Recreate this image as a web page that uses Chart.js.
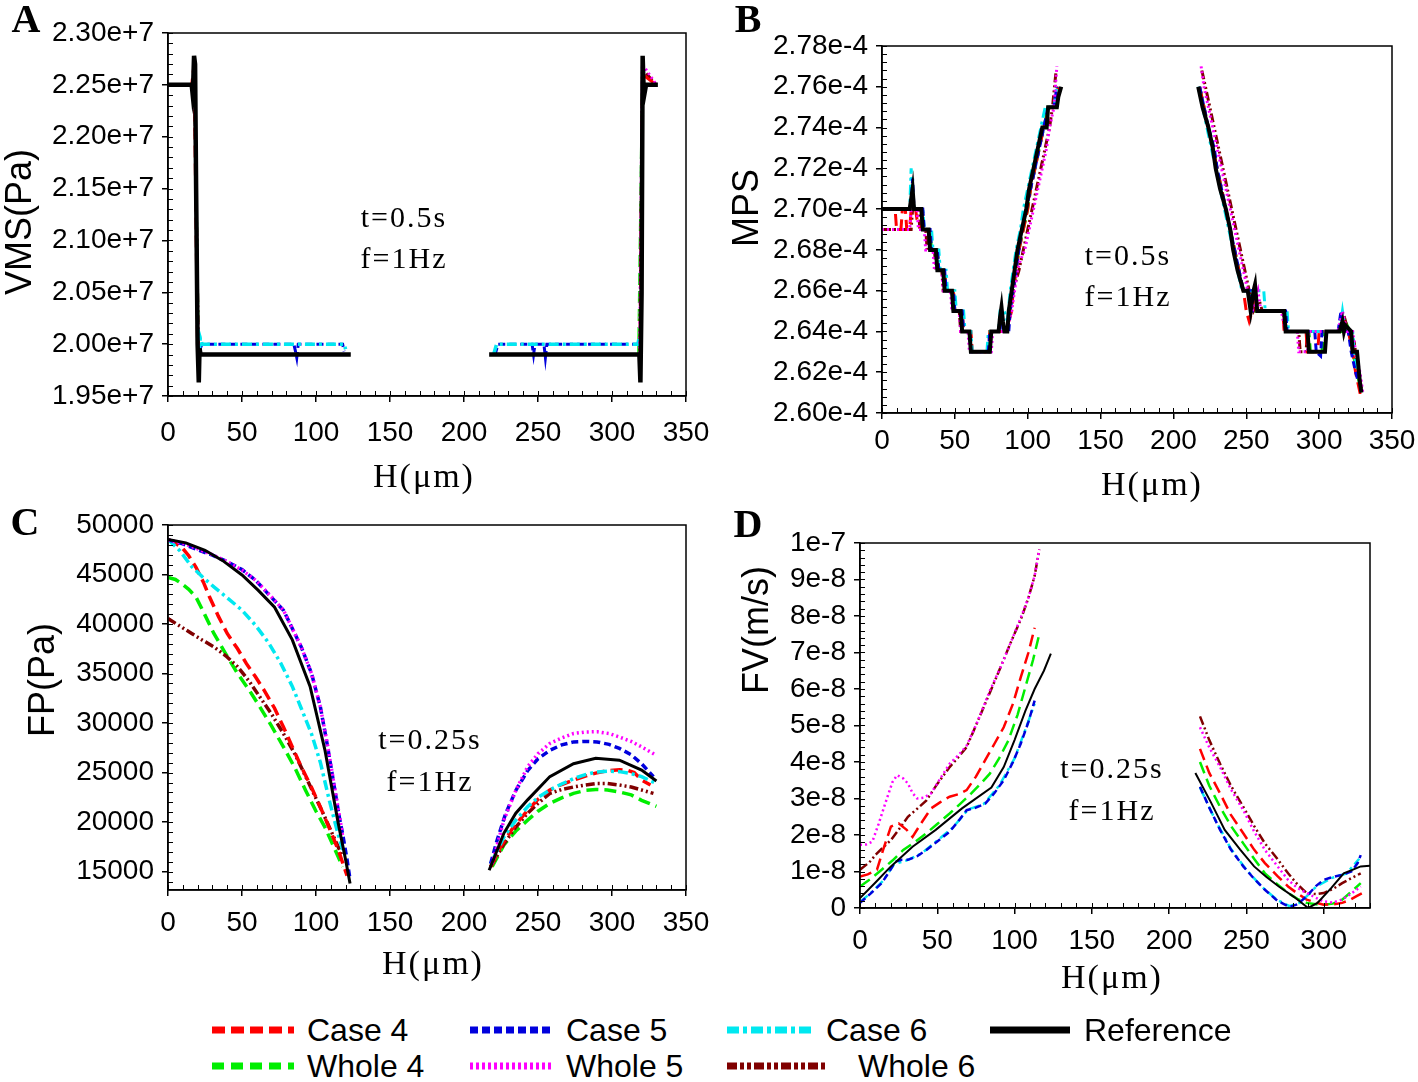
<!DOCTYPE html>
<html><head><meta charset="utf-8">
<script src="https://cdn.jsdelivr.net/npm/chart.js@4.4.0/dist/chart.umd.min.js"></script>
<style>
body{margin:0;background:#fff;width:1418px;height:1082px;overflow:hidden;position:relative;font-family:"Liberation Sans",Arial,sans-serif;}
canvas{position:absolute;}
.lbl{position:absolute;color:#000;white-space:nowrap;line-height:1;}
.letter{font-family:"Liberation Serif","Times New Roman",serif;font-weight:bold;font-size:40px;transform:translate(-50%,-50%);}
.ytitle{font-size:36px;transform:translate(-50%,-50%) rotate(-90deg);}
.xtitle{font-family:"Liberation Serif","Times New Roman",serif;font-size:34px;letter-spacing:2px;transform:translate(-50%,-50%);}
.ann{font-family:"Liberation Serif","Times New Roman",serif;font-size:30px;letter-spacing:2px;transform:translate(-50%,-50%);}
.leg{position:absolute;font-size:32px;line-height:1;transform:translateY(-50%);white-space:nowrap;}
.legsw{position:absolute;transform:translateY(-50%);}
</style></head>
<body>
<canvas id="cA" width="709" height="500" style="left:0;top:0;width:709px;height:500px"></canvas>
<canvas id="cB" width="709" height="500" style="left:709px;top:0;width:709px;height:500px"></canvas>
<canvas id="cC" width="709" height="500" style="left:0;top:500px;width:709px;height:500px"></canvas>
<canvas id="cD" width="709" height="500" style="left:709px;top:500px;width:709px;height:500px"></canvas>

<div class="lbl letter" style="left:26px;top:19px">A</div>
<div class="lbl letter" style="left:748px;top:19px">B</div>
<div class="lbl letter" style="left:25px;top:522px">C</div>
<div class="lbl letter" style="left:748px;top:524px">D</div>

<div class="lbl ytitle" style="left:19px;top:222px">VMS(Pa)</div>
<div class="lbl ytitle" style="left:746px;top:208px">MPS</div>
<div class="lbl ytitle" style="left:42px;top:680px">FP(Pa)</div>
<div class="lbl ytitle" style="left:756px;top:630px">FV(m/s)</div>

<div class="lbl xtitle" style="left:424px;top:476px">H(μm)</div>
<div class="lbl xtitle" style="left:1152px;top:484px">H(μm)</div>
<div class="lbl xtitle" style="left:433px;top:963px">H(μm)</div>
<div class="lbl xtitle" style="left:1112px;top:977px">H(μm)</div>

<div class="lbl ann" style="left:404px;top:217px">t=0.5s</div>
<div class="lbl ann" style="left:404px;top:258px">f=1Hz</div>
<div class="lbl ann" style="left:1128px;top:255px">t=0.5s</div>
<div class="lbl ann" style="left:1128px;top:296px">f=1Hz</div>
<div class="lbl ann" style="left:430px;top:739px">t=0.25s</div>
<div class="lbl ann" style="left:430px;top:781px">f=1Hz</div>
<div class="lbl ann" style="left:1112px;top:768px">t=0.25s</div>
<div class="lbl ann" style="left:1112px;top:810px">f=1Hz</div>

<div id="legend"></div>

<script>
// ---------- series names ----------
const SERIES = ['Case 4','Case 5','Case 6','Reference','Whole 4','Whole 5','Whole 6'];

// ---------- tick labels ----------
const xTicksFull = [0,50,100,150,200,250,300,350];
const xTicksD = [0,50,100,150,200,250,300];
const yTicksA = [1.95e7,2.00e7,2.05e7,2.10e7,2.15e7,2.20e7,2.25e7,2.30e7];
const yTicksB = [2.60e-4,2.62e-4,2.64e-4,2.66e-4,2.68e-4,2.70e-4,2.72e-4,2.74e-4,2.76e-4,2.78e-4];
const yTicksC = [15000,20000,25000,30000,35000,40000,45000,50000];
const yTicksD = [0,1e-8,2e-8,3e-8,4e-8,5e-8,6e-8,7e-8,8e-8,9e-8,1e-7];

// ---------- Panel A : VMS(Pa) ----------
const A_case4  = [[0,2.25e7],[16,2.25e7],[17.6,2.27e7],[20,1.99e7],[122,1.99e7],[170,null],[218,1.99e7],[319,1.99e7],[320.7,2.26e7],[330,2.25e7]];
const A_case5  = [[21.5,1.995e7],[23,2.0e7],[85,2.0e7],[86,1.994e7],[87,1.987e7],[88,2.0e7],[118,2.0e7],[119,1.993e7],[170,null],[221,1.99e7],[223,2.0e7],[246,2.0e7],[247,1.99e7],[248,2.0e7],[254,2.0e7],[255,1.987e7],[256,2.0e7],[318,2.0e7]];
const A_case6  = [[21,1.99e7],[21.8,2.006e7],[23,2.0e7],[119,2.0e7],[120,1.995e7],[170,null],[220,1.99e7],[222,2.0e7],[317.5,2.0e7],[318.3,2.006e7]];
const A_ref    = [[0,2.25e7],[16,2.25e7],[16.5,2.243e7],[17,2.25e7],[17.6,2.278e7],[18.3,2.27e7],[19,2.15e7],[20,2.0e7],[20.8,1.963e7],[21.3,1.996e7],[22,1.99e7],[123.5,1.99e7],[170,null],[217,1.99e7],[318.5,1.99e7],[319.2,1.963e7],[320,2.05e7],[320.7,2.278e7],[321.3,2.25e7],[322,2.242e7],[323,2.25e7],[331,2.25e7]];
const A_whole4 = [[0,2.25e7],[16,2.25e7],[18,2.26e7],[20.5,1.99e7],[121,1.99e7],[170,null],[219,1.99e7],[318,1.99e7],[320.5,2.25e7],[329,2.25e7]];
const A_whole5 = [[0,2.25e7],[17,2.25e7],[18,2.27e7],[20.3,1.99e7],[120,1.99e7],[170,null],[218,1.99e7],[318.6,1.99e7],[320.5,2.27e7],[330,2.25e7]];
const A_whole6 = [[0,2.25e7],[16.5,2.25e7],[17.8,2.265e7],[20.6,1.99e7],[122,1.99e7],[170,null],[218,1.99e7],[318.8,1.99e7],[320.6,2.265e7],[330,2.25e7]];

// ---------- Panel B : MPS ----------
const B_case4 = [[0,2.70e-4],[9,2.70e-4],[10,2.69e-4],[13,2.69e-4],[14,2.70e-4],[16,2.70e-4],[17,2.69e-4],[19,2.69e-4],[20,2.70e-4],[23,2.70e-4],[24,2.695e-4],[27,2.69e-4],[32,2.69e-4],[33,2.68e-4],[38,2.68e-4],[39,2.67e-4],[43,2.67e-4],[44,2.66e-4],[49,2.66e-4],[50,2.65e-4],[55,2.65e-4],[56,2.64e-4],[61,2.64e-4],[62,2.63e-4],[73,2.63e-4],[74,2.64e-4],[86,2.64e-4],[87,2.645e-4],[89,2.65e-4],[90,2.66e-4],[92,2.67e-4],[94,2.68e-4],[97,2.69e-4],[100,2.70e-4],[102,2.71e-4],[105,2.72e-4],[108,2.73e-4],[111,2.74e-4],[115,2.75e-4],[119,2.75e-4],[121,2.76e-4],[170,null],[218,2.76e-4],[221,2.75e-4],[224,2.74e-4],[227,2.73e-4],[230,2.72e-4],[233,2.71e-4],[236,2.70e-4],[239,2.69e-4],[242,2.68e-4],[245,2.67e-4],[248,2.66e-4],[250,2.65e-4],[252,2.645e-4],[254,2.65e-4],[256,2.66e-4],[258,2.65e-4],[275,2.65e-4],[276,2.64e-4],[291,2.64e-4],[292,2.63e-4],[299,2.63e-4],[300,2.64e-4],[314,2.64e-4],[317,2.645e-4],[320,2.64e-4],[323,2.63e-4],[325,2.62e-4],[328,2.61e-4],[330,2.61e-4]];
const B_case5 = [[0,2.70e-4],[20,2.70e-4],[21,2.715e-4],[22,2.70e-4],[28,2.70e-4],[29,2.69e-4],[33,2.69e-4],[34,2.68e-4],[38,2.68e-4],[39,2.67e-4],[43,2.67e-4],[44,2.66e-4],[49,2.66e-4],[50,2.65e-4],[55,2.65e-4],[56,2.64e-4],[60,2.64e-4],[61,2.63e-4],[73,2.63e-4],[74,2.64e-4],[81,2.64e-4],[82,2.65e-4],[84,2.64e-4],[87,2.64e-4],[88,2.65e-4],[90,2.66e-4],[92,2.67e-4],[94,2.68e-4],[96,2.69e-4],[99,2.70e-4],[102,2.71e-4],[105,2.72e-4],[108,2.73e-4],[111,2.74e-4],[114,2.75e-4],[118,2.75e-4],[120,2.76e-4],[170,null],[218,2.76e-4],[221,2.75e-4],[224,2.74e-4],[228,2.73e-4],[230,2.72e-4],[233,2.71e-4],[236,2.70e-4],[239,2.69e-4],[242,2.68e-4],[245,2.67e-4],[248,2.66e-4],[253,2.66e-4],[254,2.65e-4],[277,2.65e-4],[278,2.64e-4],[297,2.64e-4],[298,2.63e-4],[301,2.628e-4],[302,2.64e-4],[313,2.64e-4],[315,2.65e-4],[316,2.64e-4],[320,2.64e-4],[322,2.63e-4],[325,2.62e-4],[327,2.615e-4]];
const B_case6 = [[0,2.70e-4],[19,2.70e-4],[20,2.72e-4],[21,2.71e-4],[22,2.70e-4],[28,2.70e-4],[29,2.69e-4],[34,2.69e-4],[35,2.68e-4],[39,2.68e-4],[40,2.67e-4],[44,2.67e-4],[45,2.66e-4],[50,2.66e-4],[51,2.65e-4],[56,2.65e-4],[57,2.64e-4],[61,2.64e-4],[62,2.63e-4],[72,2.63e-4],[73,2.64e-4],[80,2.64e-4],[81,2.65e-4],[84,2.65e-4],[86,2.645e-4],[88,2.66e-4],[90,2.67e-4],[92,2.68e-4],[95,2.69e-4],[97,2.70e-4],[100,2.71e-4],[103,2.72e-4],[106,2.73e-4],[109,2.74e-4],[112,2.75e-4],[118,2.75e-4],[120,2.76e-4],[170,null],[217,2.76e-4],[220,2.75e-4],[223,2.74e-4],[226,2.73e-4],[229,2.72e-4],[232,2.71e-4],[235,2.70e-4],[238,2.69e-4],[241,2.68e-4],[244,2.67e-4],[247,2.66e-4],[262,2.66e-4],[263,2.65e-4],[278,2.65e-4],[279,2.64e-4],[314,2.64e-4],[316,2.65e-4],[318,2.64e-4],[323,2.64e-4],[324,2.63e-4],[326,2.62e-4],[328,2.62e-4]];
const B_ref = [[0,2.70e-4],[19,2.70e-4],[20,2.705e-4],[21,2.71e-4],[22,2.70e-4],[27,2.70e-4],[28,2.69e-4],[32,2.69e-4],[33,2.68e-4],[37,2.68e-4],[38,2.67e-4],[42,2.67e-4],[43,2.66e-4],[48,2.66e-4],[49,2.65e-4],[54,2.65e-4],[55,2.64e-4],[60,2.64e-4],[61,2.63e-4],[74,2.63e-4],[75,2.64e-4],[80,2.64e-4],[81,2.647e-4],[82,2.652e-4],[83,2.645e-4],[84,2.64e-4],[86,2.64e-4],[87,2.65e-4],[89,2.66e-4],[91,2.67e-4],[93,2.68e-4],[96,2.69e-4],[99,2.70e-4],[101,2.71e-4],[104,2.72e-4],[107,2.73e-4],[110,2.74e-4],[113,2.74e-4],[114,2.75e-4],[120,2.75e-4],[121,2.755e-4],[123,2.76e-4],[170,null],[217,2.76e-4],[220,2.75e-4],[224,2.74e-4],[227,2.73e-4],[229,2.72e-4],[232,2.71e-4],[236,2.70e-4],[239,2.69e-4],[241,2.68e-4],[244,2.67e-4],[248,2.66e-4],[251,2.66e-4],[253,2.65e-4],[255,2.66e-4],[256,2.663e-4],[257.5,2.65e-4],[276,2.65e-4],[277,2.64e-4],[292,2.64e-4],[293,2.63e-4],[304,2.63e-4],[305,2.64e-4],[314,2.64e-4],[316,2.645e-4],[317,2.64e-4],[318,2.643e-4],[322,2.64e-4],[323,2.63e-4],[326,2.63e-4],[328,2.615e-4],[329,2.61e-4]];
const B_whole4 = [[0,2.70e-4],[20,2.70e-4],[21,2.705e-4],[22,2.70e-4],[27,2.70e-4],[28,2.69e-4],[33,2.69e-4],[34,2.68e-4],[38,2.68e-4],[39,2.67e-4],[43,2.67e-4],[44,2.66e-4],[49,2.66e-4],[50,2.65e-4],[54,2.65e-4],[55,2.64e-4],[60,2.64e-4],[61,2.63e-4],[73,2.63e-4],[74,2.64e-4],[86,2.64e-4],[88,2.65e-4],[90,2.66e-4],[92,2.67e-4],[94,2.68e-4],[97,2.69e-4],[100,2.70e-4],[102,2.71e-4],[105,2.72e-4],[108,2.73e-4],[111,2.74e-4],[114,2.75e-4],[119,2.75e-4],[121,2.76e-4],[170,null],[218,2.76e-4],[221,2.75e-4],[224,2.74e-4],[227,2.73e-4],[230,2.72e-4],[233,2.71e-4],[236,2.70e-4],[239,2.69e-4],[242,2.68e-4],[245,2.67e-4],[248,2.66e-4],[252,2.66e-4],[253,2.65e-4],[276,2.65e-4],[277,2.64e-4],[293,2.64e-4],[294,2.63e-4],[302,2.63e-4],[303,2.64e-4],[316,2.64e-4],[318,2.645e-4],[321,2.64e-4],[323,2.63e-4],[326,2.62e-4],[329,2.61e-4]];
const B_whole5 = [[0,2.69e-4],[19,2.69e-4],[20,2.70e-4],[24,2.70e-4],[25,2.69e-4],[29,2.69e-4],[30,2.68e-4],[35,2.68e-4],[36,2.67e-4],[41,2.67e-4],[42,2.66e-4],[47,2.66e-4],[48,2.65e-4],[53,2.65e-4],[54,2.64e-4],[59,2.64e-4],[60,2.63e-4],[75,2.63e-4],[76,2.64e-4],[85,2.64e-4],[87,2.645e-4],[89,2.65e-4],[91,2.66e-4],[93,2.67e-4],[95,2.675e-4],[98,2.68e-4],[101,2.69e-4],[104,2.70e-4],[107,2.71e-4],[110,2.72e-4],[113,2.73e-4],[115,2.74e-4],[118,2.75e-4],[120,2.77e-4],[170,null],[219,2.77e-4],[221,2.76e-4],[224,2.75e-4],[227,2.74e-4],[230,2.73e-4],[233,2.72e-4],[236,2.71e-4],[239,2.70e-4],[242,2.69e-4],[245,2.68e-4],[248,2.67e-4],[251,2.66e-4],[254,2.65e-4],[258,2.66e-4],[260,2.65e-4],[274,2.65e-4],[277,2.64e-4],[285,2.64e-4],[286,2.63e-4],[292,2.63e-4],[293,2.64e-4],[313,2.64e-4],[316,2.65e-4],[319,2.64e-4],[323,2.64e-4],[325,2.63e-4],[328,2.62e-4],[330,2.61e-4]];
const B_whole6 = [[0,2.69e-4],[20,2.69e-4],[21,2.70e-4],[25,2.70e-4],[26,2.69e-4],[30,2.69e-4],[31,2.68e-4],[36,2.68e-4],[37,2.67e-4],[41,2.67e-4],[42,2.66e-4],[48,2.66e-4],[49,2.65e-4],[53,2.65e-4],[54,2.64e-4],[60,2.64e-4],[61,2.63e-4],[74,2.63e-4],[75,2.64e-4],[86,2.64e-4],[88,2.65e-4],[90,2.66e-4],[92,2.665e-4],[94,2.67e-4],[97,2.68e-4],[100,2.69e-4],[103,2.70e-4],[106,2.71e-4],[109,2.72e-4],[112,2.73e-4],[115,2.74e-4],[117,2.75e-4],[119.5,2.768e-4],[170,null],[219.5,2.768e-4],[222,2.76e-4],[225,2.75e-4],[228,2.74e-4],[231,2.73e-4],[234,2.72e-4],[237,2.71e-4],[240,2.70e-4],[243,2.69e-4],[246,2.68e-4],[249,2.67e-4],[252,2.66e-4],[255,2.65e-4],[259,2.655e-4],[261,2.65e-4],[275,2.65e-4],[278,2.64e-4],[286,2.64e-4],[287,2.63e-4],[291,2.63e-4],[292,2.64e-4],[314,2.64e-4],[317,2.648e-4],[320,2.64e-4],[324,2.635e-4],[326,2.625e-4],[329,2.612e-4]];

// ---------- Panel C : FP(Pa) ----------
const C_case4 = [[0,48550],[9,47800],[14,46900],[19,45700],[24,44200],[28,42750],[34,40800],[40,39050],[47,37500],[53,36000],[59,34700],[65,33300],[72,31500],[78,29600],[84,27600],[90,25600],[97,23500],[103,21500],[109,19400],[115,17200],[121,14600],[170,null],[218,15500],[225,17600],[233,19400],[243,21200],[250,22300],[258,23250],[266,23800],[274,24250],[282,24650],[289,24950],[297,25200],[305,25300],[311,25200],[315,25000],[320,24250],[326,23750]];
const C_case5 = [[0,48500],[10,48100],[20,47500],[30,46950],[40,46300],[50,45500],[59,44450],[68,43000],[78,41400],[90,37700],[97,35000],[103,31600],[108,27500],[112,23900],[116,20300],[118,18800],[121,16200],[123,14200],[170,null],[218,15800],[222,18000],[228,20800],[235,23200],[243,25200],[250,26400],[258,27250],[266,27800],[274,28100],[282,28150],[290,28100],[298,27850],[305,27450],[313,26800],[320,25900],[328,24600]];
const C_case6 = [[0,48550],[8,47400],[16,45800],[23,44800],[31,43750],[40,42650],[50,41400],[59,39900],[68,38100],[76,36100],[84,33700],[90,31500],[97,28900],[103,26000],[109,22200],[114,19300],[118,17200],[170,null],[218,15800],[227,18500],[235,20200],[243,21550],[250,22500],[258,23250],[266,23850],[274,24400],[282,24800],[289,25050],[297,25150],[305,25100],[313,24900],[320,24600],[330,23900]];
const C_ref = [[0,48550],[12,48200],[25,47450],[37,46400],[50,44950],[61,43400],[72,41700],[84,38400],[96,33700],[106,27300],[115,19900],[120,16200],[123,13800],[170,null],[217,15150],[227,18900],[235,20900],[243,22250],[258,24600],[274,25900],[289,26450],[305,26250],[320,25250],[330,24150]];
const C_whole4 = [[0,44700],[5,44500],[9,44100],[14,43500],[19,42700],[25,40900],[31,39050],[39,37000],[47,35000],[55,33300],[62,31650],[70,29700],[78,27600],[86,25400],[93,23200],[100,21100],[106,19500],[112,17500],[118,15500],[170,null],[219,15500],[227,17700],[235,19100],[243,20200],[250,21100],[258,21900],[266,22450],[274,22900],[282,23200],[289,23300],[297,23250],[305,23050],[313,22750],[320,22200],[330,21600]];
const C_whole5 = [[0,48500],[10,48150],[20,47600],[30,47000],[40,46300],[50,45450],[59,44450],[68,43050],[78,41400],[90,37700],[97,35000],[103,31600],[108,27600],[112,24000],[116,20500],[118,18600],[170,null],[219,15800],[223,18000],[227,20200],[235,23200],[243,25600],[250,26900],[258,27950],[266,28500],[274,28950],[282,29100],[290,29130],[298,28950],[305,28600],[313,28150],[320,27600],[330,26750]];
const C_whole6 = [[0,40550],[8,39800],[16,39050],[23,38400],[31,37700],[39,36800],[47,35700],[55,34200],[62,32650],[70,30900],[78,28950],[86,26800],[93,24600],[100,22400],[106,20500],[112,18500],[118,16500],[170,null],[218,15500],[227,17800],[235,19500],[243,20900],[250,21900],[258,22900],[266,23300],[274,23550],[282,23750],[289,23900],[297,23900],[305,23750],[313,23550],[320,23250],[328,22900]];

// ---------- Panel D : FV(m/s) ----------
const D_case4 = [[0,0.86e-8],[5,0.92e-8],[11,1.05e-8],[15,1.6e-8],[20,2.23e-8],[25,2.32e-8],[30,2.15e-8],[34,1.95e-8],[40,2.35e-8],[46,2.73e-8],[52,2.9e-8],[58,3.05e-8],[64,3.12e-8],[69,3.23e-8],[75,3.6e-8],[81,4.05e-8],[87,4.5e-8],[93,4.95e-8],[99,5.6e-8],[104,6.32e-8],[109,7.0e-8],[113,7.68e-8],[170,null],[220,4.36e-8],[226,3.7e-8],[233,3.14e-8],[240,2.55e-8],[248,2.05e-8],[255,1.6e-8],[262,1.23e-8],[270,0.88e-8],[277,0.59e-8],[283,0.4e-8],[289,0.23e-8],[295,0.15e-8],[300,0.09e-8],[306,0.1e-8],[312,0.14e-8],[317,0.22e-8],[321,0.32e-8],[325,0.41e-8]];
const D_case5 = [[0,0.14e-8],[7,0.4e-8],[14,0.68e-8],[19,1.0e-8],[23,1.27e-8],[27,1.32e-8],[31,1.32e-8],[37,1.42e-8],[43,1.59e-8],[50,1.82e-8],[58,2.09e-8],[64,2.4e-8],[69,2.68e-8],[75,2.75e-8],[81,2.86e-8],[87,3.15e-8],[93,3.5e-8],[99,4.0e-8],[104,4.5e-8],[109,5.1e-8],[113,5.68e-8],[170,null],[220,3.32e-8],[226,2.75e-8],[233,2.14e-8],[240,1.6e-8],[248,1.14e-8],[255,0.8e-8],[262,0.5e-8],[270,0.2e-8],[278,0.03e-8],[283,0.1e-8],[289,0.32e-8],[295,0.6e-8],[300,0.77e-8],[306,0.85e-8],[312,0.91e-8],[318,1.0e-8],[322,1.23e-8],[324,1.45e-8]];
const D_case6 = [[0,0.16e-8],[8,0.45e-8],[15,0.75e-8],[22,1.2e-8],[30,1.3e-8],[40,1.5e-8],[50,1.85e-8],[60,2.2e-8],[70,2.7e-8],[80,2.85e-8],[90,3.35e-8],[100,4.1e-8],[108,5.0e-8],[113,5.6e-8],[170,null],[220,3.3e-8],[230,2.4e-8],[240,1.62e-8],[250,1.05e-8],[260,0.58e-8],[270,0.22e-8],[278,0.05e-8],[285,0.15e-8],[295,0.58e-8],[305,0.82e-8],[315,0.95e-8],[323,1.35e-8]];
const D_ref = [[0,0.27e-8],[10,0.7e-8],[20,1.14e-8],[34,1.68e-8],[49,2.14e-8],[66,2.73e-8],[85,3.3e-8],[93,3.86e-8],[100,4.6e-8],[107,5.4e-8],[113,6.0e-8],[119,6.5e-8],[123.5,6.97e-8],[170,null],[217,3.7e-8],[227,2.9e-8],[236,2.14e-8],[246,1.6e-8],[255,1.14e-8],[263,0.85e-8],[271,0.59e-8],[281,0.3e-8],[290,0.0],[296,0.14e-8],[305,0.55e-8],[313,0.95e-8],[319,1.05e-8],[324,1.14e-8],[330,1.16e-8]];
const D_whole4 = [[0,0.59e-8],[7,0.8e-8],[14,1.05e-8],[21,1.3e-8],[28,1.59e-8],[36,1.82e-8],[43,2.05e-8],[50,2.3e-8],[58,2.59e-8],[65,2.86e-8],[72,3.14e-8],[78,3.4e-8],[84,3.68e-8],[90,4.1e-8],[96,4.59e-8],[102,5.3e-8],[107,6.05e-8],[112,6.8e-8],[116,7.5e-8],[170,null],[220,4.0e-8],[226,3.35e-8],[233,2.77e-8],[240,2.25e-8],[248,1.77e-8],[255,1.35e-8],[262,0.95e-8],[270,0.65e-8],[277,0.41e-8],[283,0.25e-8],[289,0.14e-8],[295,0.1e-8],[300,0.09e-8],[306,0.12e-8],[312,0.23e-8],[318,0.45e-8],[324,0.68e-8]];
const D_whole5 = [[0,1.73e-8],[4,1.74e-8],[8,1.82e-8],[12,2.3e-8],[17,2.95e-8],[21,3.45e-8],[24,3.64e-8],[28,3.55e-8],[31,3.41e-8],[34,3.15e-8],[37,3.0e-8],[41,3.02e-8],[46,3.14e-8],[52,3.55e-8],[58,3.95e-8],[64,4.2e-8],[69,4.45e-8],[76,5.1e-8],[84,5.95e-8],[91,6.6e-8],[98,7.32e-8],[104,7.95e-8],[109,8.5e-8],[113,9.1e-8],[116,9.82e-8],[170,null],[220,4.95e-8],[226,4.4e-8],[233,3.86e-8],[240,3.25e-8],[248,2.68e-8],[255,2.1e-8],[262,1.59e-8],[270,1.15e-8],[277,0.77e-8],[283,0.55e-8],[289,0.41e-8],[295,0.28e-8],[300,0.18e-8],[306,0.15e-8],[312,0.23e-8],[318,0.4e-8],[324,0.59e-8]];
const D_whole6 = [[0,1.05e-8],[6,1.25e-8],[11,1.5e-8],[16,1.7e-8],[20,1.86e-8],[26,2.2e-8],[31,2.5e-8],[37,2.72e-8],[43,2.95e-8],[50,3.4e-8],[58,3.86e-8],[64,4.15e-8],[69,4.41e-8],[76,5.1e-8],[84,5.9e-8],[91,6.6e-8],[98,7.32e-8],[104,7.9e-8],[109,8.5e-8],[113,9.1e-8],[116,9.82e-8],[170,null],[220,5.25e-8],[226,4.6e-8],[233,3.95e-8],[240,3.35e-8],[248,2.77e-8],[255,2.25e-8],[262,1.77e-8],[270,1.35e-8],[277,0.95e-8],[283,0.65e-8],[289,0.41e-8],[295,0.38e-8],[300,0.41e-8],[306,0.52e-8],[312,0.68e-8],[318,0.82e-8],[324,0.95e-8]];

// ---------- styles ----------
const COLORS = ['#ff0000','#0000dd','#00e8f0','#000000','#00ee00','#ff00ff','#800000'];
const DASH = [[12,6],[7,4],[10,4,3,4],[],[12,6],[2,3],[9,3,2,3,2,3]];
const ORDER = [4,2,3,0,6,1,5];
const ORDER_A = [4,3,2,0,6,1,5];
const FONT_SANS = '"Liberation Sans", Arial, sans-serif';

const framePlugin = {
  id:'frame',
  afterDraw(chart, args, opts){
    const {ctx, chartArea:a, scales:{x,y}} = chart;
    ctx.save();
    ctx.strokeStyle = '#000';
    ctx.lineWidth = 1;
    ctx.beginPath();
    let s = Math.ceil(x.min/opts.minorX - 1e-9);
    for (let i=s; i*opts.minorX <= x.max + 1e-9; i++){
      const p = Math.round(x.getPixelForValue(i*opts.minorX)) + 0.5;
      ctx.moveTo(p, a.bottom); ctx.lineTo(p, a.bottom - 5);
    }
    s = Math.ceil(y.min/opts.minorY - 1e-9);
    for (let i=s; i*opts.minorY <= y.max*(1+1e-9); i++){
      const p = Math.round(y.getPixelForValue(i*opts.minorY)) + 0.5;
      ctx.moveTo(a.left, p); ctx.lineTo(a.left + 5, p);
    }
    ctx.stroke();
    ctx.lineWidth = 1.5;
    ctx.strokeRect(a.left, a.top, a.right - a.left, a.bottom - a.top);
    ctx.restore();
  }
};

function panel(id, series, cfg){
  const ord = cfg.order || ORDER;
  return new Chart(document.getElementById(id), {
    type:'line',
    data:{datasets: series.map((s,i)=>({
      label: SERIES[i],
      data: s.map(p=>({x:p[0], y:p[1]})),
      borderColor: COLORS[i],
      borderWidth: cfg.widths[i],
      borderDash: DASH[i],
      pointRadius: 0,
      fill: false,
      tension: 0,
      spanGaps: false,
      order: ord[i]
    }))},
    options:{
      responsive:false, animation:false, devicePixelRatio:1,
      layout:{padding:{left:0, top:cfg.top, right:cfg.right, bottom:0}},
      plugins:{legend:{display:false}, tooltip:{enabled:false}, frame:{minorX:10, minorY:cfg.minorY}},
      scales:{
        x:{type:'linear', min:0, max:cfg.xmax,
          afterBuildTicks: sc=>{ sc.ticks = cfg.xticks.map(v=>({value:v})); },
          afterFit: sc=>{ sc.height = cfg.bottom; sc.paddingLeft = 0; sc.paddingRight = 0; },
          grid:{drawOnChartArea:false, drawTicks:true, tickLength:6, color:'#000', lineWidth:1.5},
          border:{display:true, color:'#000', width:1.5},
          ticks:{autoSkip:false, maxRotation:0, color:'#000', padding:cfg.xpad, font:{family:FONT_SANS, size:28}, callback:v=>String(v)}
        },
        y:{type:'linear', min:cfg.ymin, max:cfg.ymax,
          afterBuildTicks: sc=>{ sc.ticks = cfg.yticks.map(v=>({value:v})); },
          afterFit: sc=>{ sc.width = cfg.left; sc.paddingTop = 0; sc.paddingBottom = 0; },
          grid:{drawOnChartArea:false, drawTicks:true, tickLength:6, color:'#000', lineWidth:1.5},
          border:{display:true, color:'#000', width:1.5},
          ticks:{autoSkip:false, color:'#000', padding:cfg.ypad, font:{family:FONT_SANS, size:28}, callback:cfg.fmt}
        }
      }
    },
    plugins:[framePlugin]
  });
}

panel('cA', [A_case4,A_case5,A_case6,A_ref,A_whole4,A_whole5,A_whole6], {
  top:33, right:23, left:168, bottom:104, xmax:350, xticks:xTicksFull, xpad:14,
  ymin:1.95e7, ymax:2.30e7, yticks:yTicksA, minorY:0.01e7, ypad:8, order:ORDER_A,
  fmt:v=>v.toExponential(2), widths:[3,3,3.5,4.5,3,3,3]
});
panel('cB', [B_case4,B_case5,B_case6,B_ref,B_whole4,B_whole5,B_whole6], {
  top:46, right:26, left:173, bottom:87, xmax:350, xticks:xTicksFull, xpad:5,
  ymin:2.60e-4, ymax:2.78e-4, yticks:yTicksB, minorY:0.004e-4, ypad:8,
  fmt:v=>v.toExponential(2), widths:[3,3,3,4,3,3,3]
});
panel('cC', [C_case4,C_case5,C_case6,C_ref,C_whole4,C_whole5,C_whole6], {
  top:25, right:23, left:168, bottom:110, xmax:350, xticks:xTicksFull, xpad:10,
  ymin:13150, ymax:50000, yticks:yTicksC, minorY:1000, ypad:8,
  fmt:v=>String(v), widths:[3.5,3.5,3.5,3,3.5,3.5,3.5]
});
panel('cD', [D_case4,D_case5,D_case6,D_ref,D_whole4,D_whole5,D_whole6], {
  top:43, right:48, left:151, bottom:92, xmax:330, xticks:xTicksD, xpad:10,
  ymin:0, ymax:1e-7, yticks:yTicksD, minorY:0.2e-8, ypad:8,
  fmt:v=>v===0?'0':v.toExponential(0), widths:[2.5,2.5,2.5,2,2.5,2.5,2.5]
});

// ---------- legend ----------
const LEG_POS = [[212,1030],[470,1030],[727,1030],[990,1030],[212,1066],[470,1066],[727,1066]];
const LEG_TEXT_X = [307,566,826,1084,307,566,858];
const LEG_SW = [82,82,84,80,82,82,98];
const LEG_DASH = ['13 6','8 4','12 4 4 4','','12 7','3 3','10 3 4 3 4 3'];
const leg = document.getElementById('legend');
SERIES.forEach((name,i)=>{
  const [lx,ly] = LEG_POS[i];
  const w = LEG_SW[i];
  const sw = document.createElementNS('http://www.w3.org/2000/svg','svg');
  sw.setAttribute('width', w); sw.setAttribute('height', 10);
  sw.setAttribute('class','legsw');
  sw.style.left = lx + 'px'; sw.style.top = ly + 'px';
  const ln = document.createElementNS('http://www.w3.org/2000/svg','line');
  ln.setAttribute('x1',0); ln.setAttribute('y1',5); ln.setAttribute('x2',w); ln.setAttribute('y2',5);
  ln.setAttribute('stroke', COLORS[i]); ln.setAttribute('stroke-width', 7);
  if (LEG_DASH[i]) ln.setAttribute('stroke-dasharray', LEG_DASH[i]);
  sw.appendChild(ln);
  leg.appendChild(sw);
  const t = document.createElement('div');
  t.className = 'leg';
  t.style.left = LEG_TEXT_X[i] + 'px'; t.style.top = ly + 'px';
  t.textContent = name;
  leg.appendChild(t);
});
</script>
</body></html>
